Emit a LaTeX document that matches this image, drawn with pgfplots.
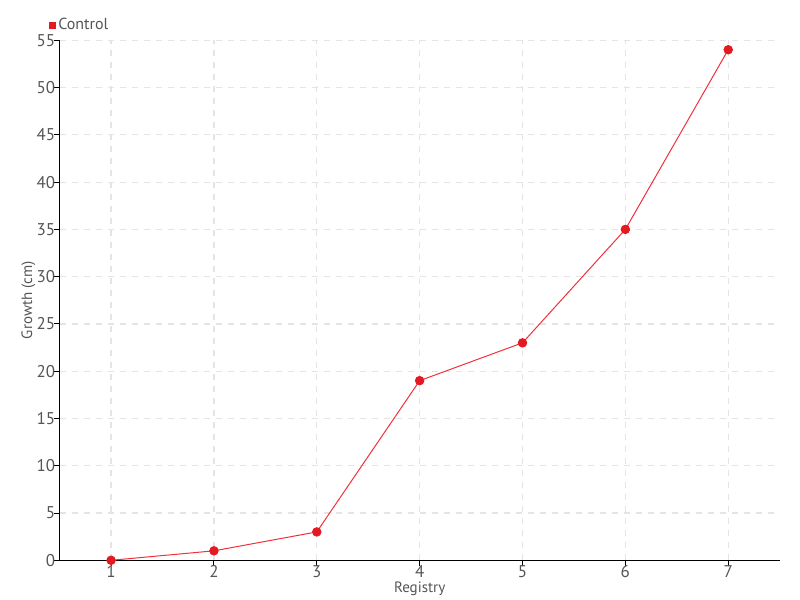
\documentclass[border=0pt]{standalone}
\usepackage{fontspec}
\setmainfont{PT Sans}
\usepackage{pgfplots}
\pgfplotsset{compat=1.18}
\definecolor{linered}{HTML}{F0313B}
\definecolor{markred}{HTML}{E31A22}
\definecolor{txtgray}{HTML}{555555}
\definecolor{gridgray}{HTML}{E4E4E4}
\begin{document}
\begin{tikzpicture}[x=0.5pt,y=0.5pt]
\path[use as bounding box] (0,0) rectangle (800,600);
\begin{axis}[
  at={(58,42)}, anchor=south west,
  scale only axis, width=360pt, height=260pt,
  xmin=0.5, xmax=7.5, ymin=0, ymax=55,
  xtick={1,...,7}, ytick={0,5,...,55},
  axis x line=bottom, axis y line=left,
  axis line style={black, line width=0.6pt, -},
  tick style={black, line width=0.5pt},
  tick align=outside, major tick length=3pt,
  grid=major,
  major grid style={gridgray, dashed, line width=0.6pt},
  ticklabel style={font=\fontsize{8.5}{10}\selectfont, text=txtgray},
  /pgf/number format/assume math mode=true,
  xticklabel style={anchor=center, inner sep=0pt, yshift=-2.5pt},
  yticklabel style={anchor=east, inner sep=0pt, xshift=1pt},
  xlabel={Registry}, ylabel={Growth (cm)},
  label style={font=\fontsize{7.5}{9}\selectfont, text=txtgray},
  xlabel style={at={(axis description cs:0.5,0)}, anchor=center, inner sep=0pt, yshift=-14pt},
  ylabel style={at={(axis description cs:-0.033,0.5)}, anchor=south, inner sep=0pt},
  clip=false,
  legend style={at={(-0.015,1.01)}, anchor=south west, draw=none, fill=none,
    font=\fontsize{8}{9}\selectfont, text=txtgray, inner sep=0pt,
    nodes={inner sep=1pt},
    legend image code/.code={\fill[markred] (0.0cm,-1.5pt) rectangle (3pt,1.5pt);}},
  legend cell align=left,
]
\addplot[linered, line width=0.5pt, mark=*, mark size=2.1pt,
  mark options={fill=markred, draw=markred}]
coordinates {(1,0) (2,1) (3,3) (4,19) (5,23) (6,35) (7,54)};
\addlegendentry{Control}
\end{axis}
\end{tikzpicture}
\end{document}
